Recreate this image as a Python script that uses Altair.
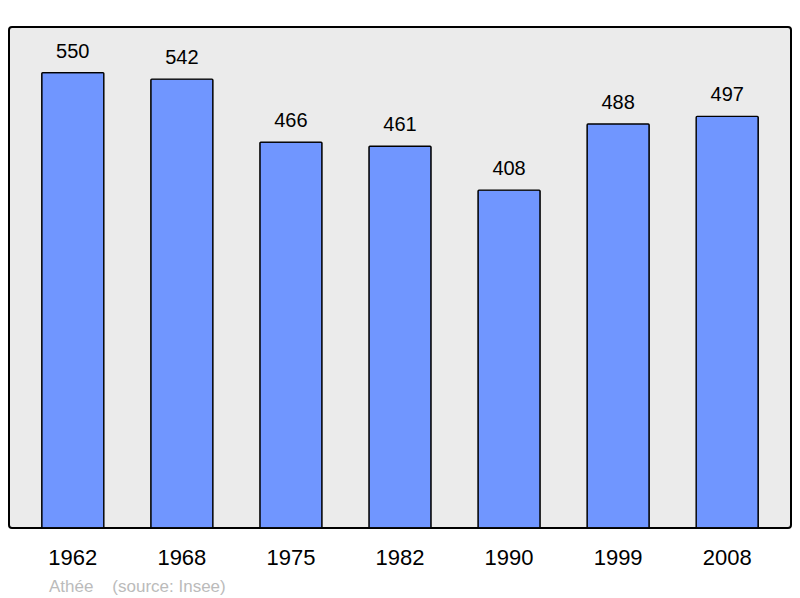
import altair as alt
import pandas as pd

years = ["1962", "1968", "1975", "1982", "1990", "1999", "2008"]
population = [550, 542, 466, 461, 408, 488, 497]
source_text = "Athée\u00a0\u00a0\u00a0\u00a0(source: Insee)"

df = pd.DataFrame({"year": years, "pop": population})

x = alt.X("year:N", sort=years, title=None,
          scale=alt.Scale(paddingInner=0.43, paddingOuter=0.3),
          axis=alt.Axis(labelAngle=0, labelFontSize=22, labelFont="Liberation Sans",
                        labelColor="#000000", domain=False, ticks=False, labelPadding=19))
y = alt.Y("pop:Q", title=None, scale=alt.Scale(domain=[0, 605], nice=False),
          axis=None)

base = alt.Chart(df)
bars = base.mark_bar(color="#7096ff", stroke="#000000", strokeWidth=1.3,
                     cornerRadius=1).encode(x=x, y=y)
labels = base.mark_text(baseline="alphabetic", dy=-15, fontSize=20,
                        font="Liberation Sans", color="#000000").encode(
    x=x, y=y, text="pop:Q")
src = alt.Chart(pd.DataFrame({"t": [source_text]})).mark_text(
    align="left", baseline="middle", fontSize=17, font="Liberation Sans",
    color="#bbbbbb").encode(x=alt.value(40), y=alt.value(560), text="t:N")

chart = alt.layer(bars, labels, src).properties(
    width=782, height=501,
    autosize=alt.AutoSizeParams(type="none"),
    padding={"left": 1, "top": 19, "right": 1, "bottom": 70},
    background="#ffffff",
).configure_view(
    fill="#ebebeb", stroke="#000000", strokeWidth=2, cornerRadius=3
)

chart.save("out.html", embed_options={"renderer": "svg", "actions": False})
